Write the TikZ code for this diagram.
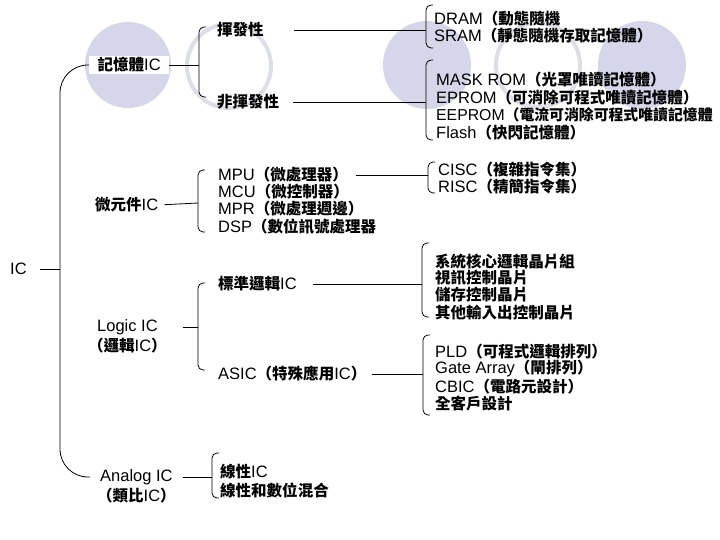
\documentclass[tikz,border=0pt]{standalone}
\usepackage{fontspec}
\setmainfont{Liberation Sans}
\newfontfamily\cjk[Scale=0.94]{Noto Sans CJK TC}
\newcommand\zh[1]{{\cjk\bfseries #1}}
\usetikzlibrary{positioning}
\definecolor{lav}{RGB}{214,214,235}
\definecolor{ringgray}{RGB}{222,222,232}

\begin{document}
\begin{tikzpicture}[x=1pt, y=-1pt,
  every node/.style={font=\fontsize{16.5}{17.5}\selectfont, inner sep=0pt, anchor=west},
  conn/.style={line width=0.8pt},
  brace/.style={line width=0.8pt, rounded corners=5pt}]
  \useasboundingbox (0,0) rectangle (720,540);
  % background circles
  \fill[lav] (128,65) circle (43pt);
  \draw[ringgray, line width=4pt] (229,66) circle (42pt);
  \fill[lav] (427,65) circle (44pt);
  \draw[ringgray, line width=4pt] (538,65) circle (42pt);
  \fill[lav] (642,65) circle (44pt);

  % first level
  \node (ic) at (10,269) {IC};
  \coordinate (trunk) at (60,269);
  \node[fill=white, minimum width=80pt, minimum height=18pt] (mem) at (89,65) {\zh{記憶體}IC};
  \node (micro) at (95,205) {\zh{微元件}IC};
  \node (logic) at (97,327) {Logic IC};
  \node[below=3pt of logic] (logiczh) {\zh{（邏輯}IC\zh{）}};
  \node (analog) at (100,477) {Analog IC};
  \node[below=3pt of analog] (analogzh) {\zh{（類比}IC\zh{）}};
  \draw[conn, shorten <=13pt] (ic.east) -- (trunk);
  \draw[conn, rounded corners=28pt] (mem.west) -| (trunk) |- ([xshift=-10pt]analog.west);

  % memory
  \coordinate (membr) at (199,65);
  \draw[conn] (mem.east) -- (membr);
  \draw[brace] (206,27) -- (199,27) -- (199,97) -- (206,97);
  \node (vol) at (217,30) {\zh{揮發性}};
  \node (nvol) at (217,102) {\zh{非揮發性}};
  \coordinate (volbr) at (426,30);
  \coordinate (nvolbr) at (426,102);
  \draw[conn, shorten <=30pt] (vol.east) -- (volbr);
  \draw[conn, shorten <=14pt] (nvol.east) -- (nvolbr);
  \draw[brace] (433,5) -- (426,5) -- (426,48) -- (433,48);
  \node (dram) at (434,19) {DRAM\zh{（動態隨機}};
  \node (sram) at (434,36) {SRAM\zh{（靜態隨機存取記憶體）}};
  \draw[brace] (433,60) -- (426,60) -- (426,140) -- (433,140);
  \node (mask) at (436,80) {MASK ROM\zh{（光罩唯讀記憶體）}};
  \node (eprom) at (436,98) {EPROM\zh{（可消除可程式唯讀記憶體）}};
  \node[font=\fontsize{15.8}{17.5}\selectfont] (eeprom) at (436,115) {EEPROM\zh{（電流可消除可程式唯讀記憶體}};
  \node (flash) at (436,133) {Flash\zh{（快閃記憶體）}};

  % micro components
  \coordinate (microbr) at (198,203);
  \draw[conn, shorten <=6pt] (micro.east) -- (microbr);
  \draw[brace] (205,170) -- (198,170) -- (198,232) -- (205,232);
  \node (mpu) at (218,175) {MPU\zh{（微處理器）}};
  \node (mcu) at (218,192) {MCU\zh{（微控制器）}};
  \node (mpr) at (218,209) {MPR\zh{（微處理週邊）}};
  \node (dsp) at (218,227) {DSP\zh{（數位訊號處理器}};
  \coordinate (cpubr) at (428,175);
  \draw[conn, shorten <=8pt] (mpu.east) -- (cpubr);
  \draw[brace] (435,162) -- (428,162) -- (428,193) -- (435,193);
  \node (cisc) at (438,170) {CISC\zh{（複雜指令集）}};
  \node (risc) at (438,187) {RISC\zh{（精簡指令集）}};

  % logic
  \coordinate (logicbr) at (198,327);
  \draw[conn, shorten <=25pt] (logic.east) -- (logicbr);
  \draw[brace] (205,283) -- (198,283) -- (198,370) -- (205,370);
  \node (std) at (218,284) {\zh{標準邏輯}IC};
  \node (asic) at (218,374) {ASIC\zh{（特殊應用}IC\zh{）}};
  \coordinate (stdbr) at (422,284);
  \coordinate (asicbr) at (423,374);
  \draw[conn, shorten <=16pt] (std.east) -- (stdbr);
  \draw[conn, shorten <=6pt] (asic.east) -- (asicbr);
  \draw[brace] (429,243) -- (422,243) -- (422,317) -- (429,317);
  \node (chipset) at (435,262) {\zh{系統核心邏輯晶片組}};
  \node (video) at (435,278) {\zh{視訊控制晶片}};
  \node (storage) at (435,295) {\zh{儲存控制晶片}};
  \node (io) at (435,313) {\zh{其他輸入出控制晶片}};
  \draw[brace] (430,335) -- (423,335) -- (423,415) -- (430,415);
  \node (pld) at (435,352) {PLD\zh{（可程式邏輯排列）}};
  \node (gate) at (435,369) {Gate Array\zh{（閘排列）}};
  \node (cbic) at (435,387) {CBIC\zh{（電路元設計）}};
  \node (full) at (435,404) {\zh{全客戶設計}};

  % analog
  \coordinate (analogbr) at (212,477);
  \draw[conn, shorten <=10pt] (analog.east) -- (analogbr);
  \draw[brace] (219,453) -- (212,453) -- (212,498) -- (219,498);
  \node (lin) at (220,472) {\zh{線性}IC};
  \node (mix) at (220,490) {\zh{線性和數位混合}};
\end{tikzpicture}
\end{document}
